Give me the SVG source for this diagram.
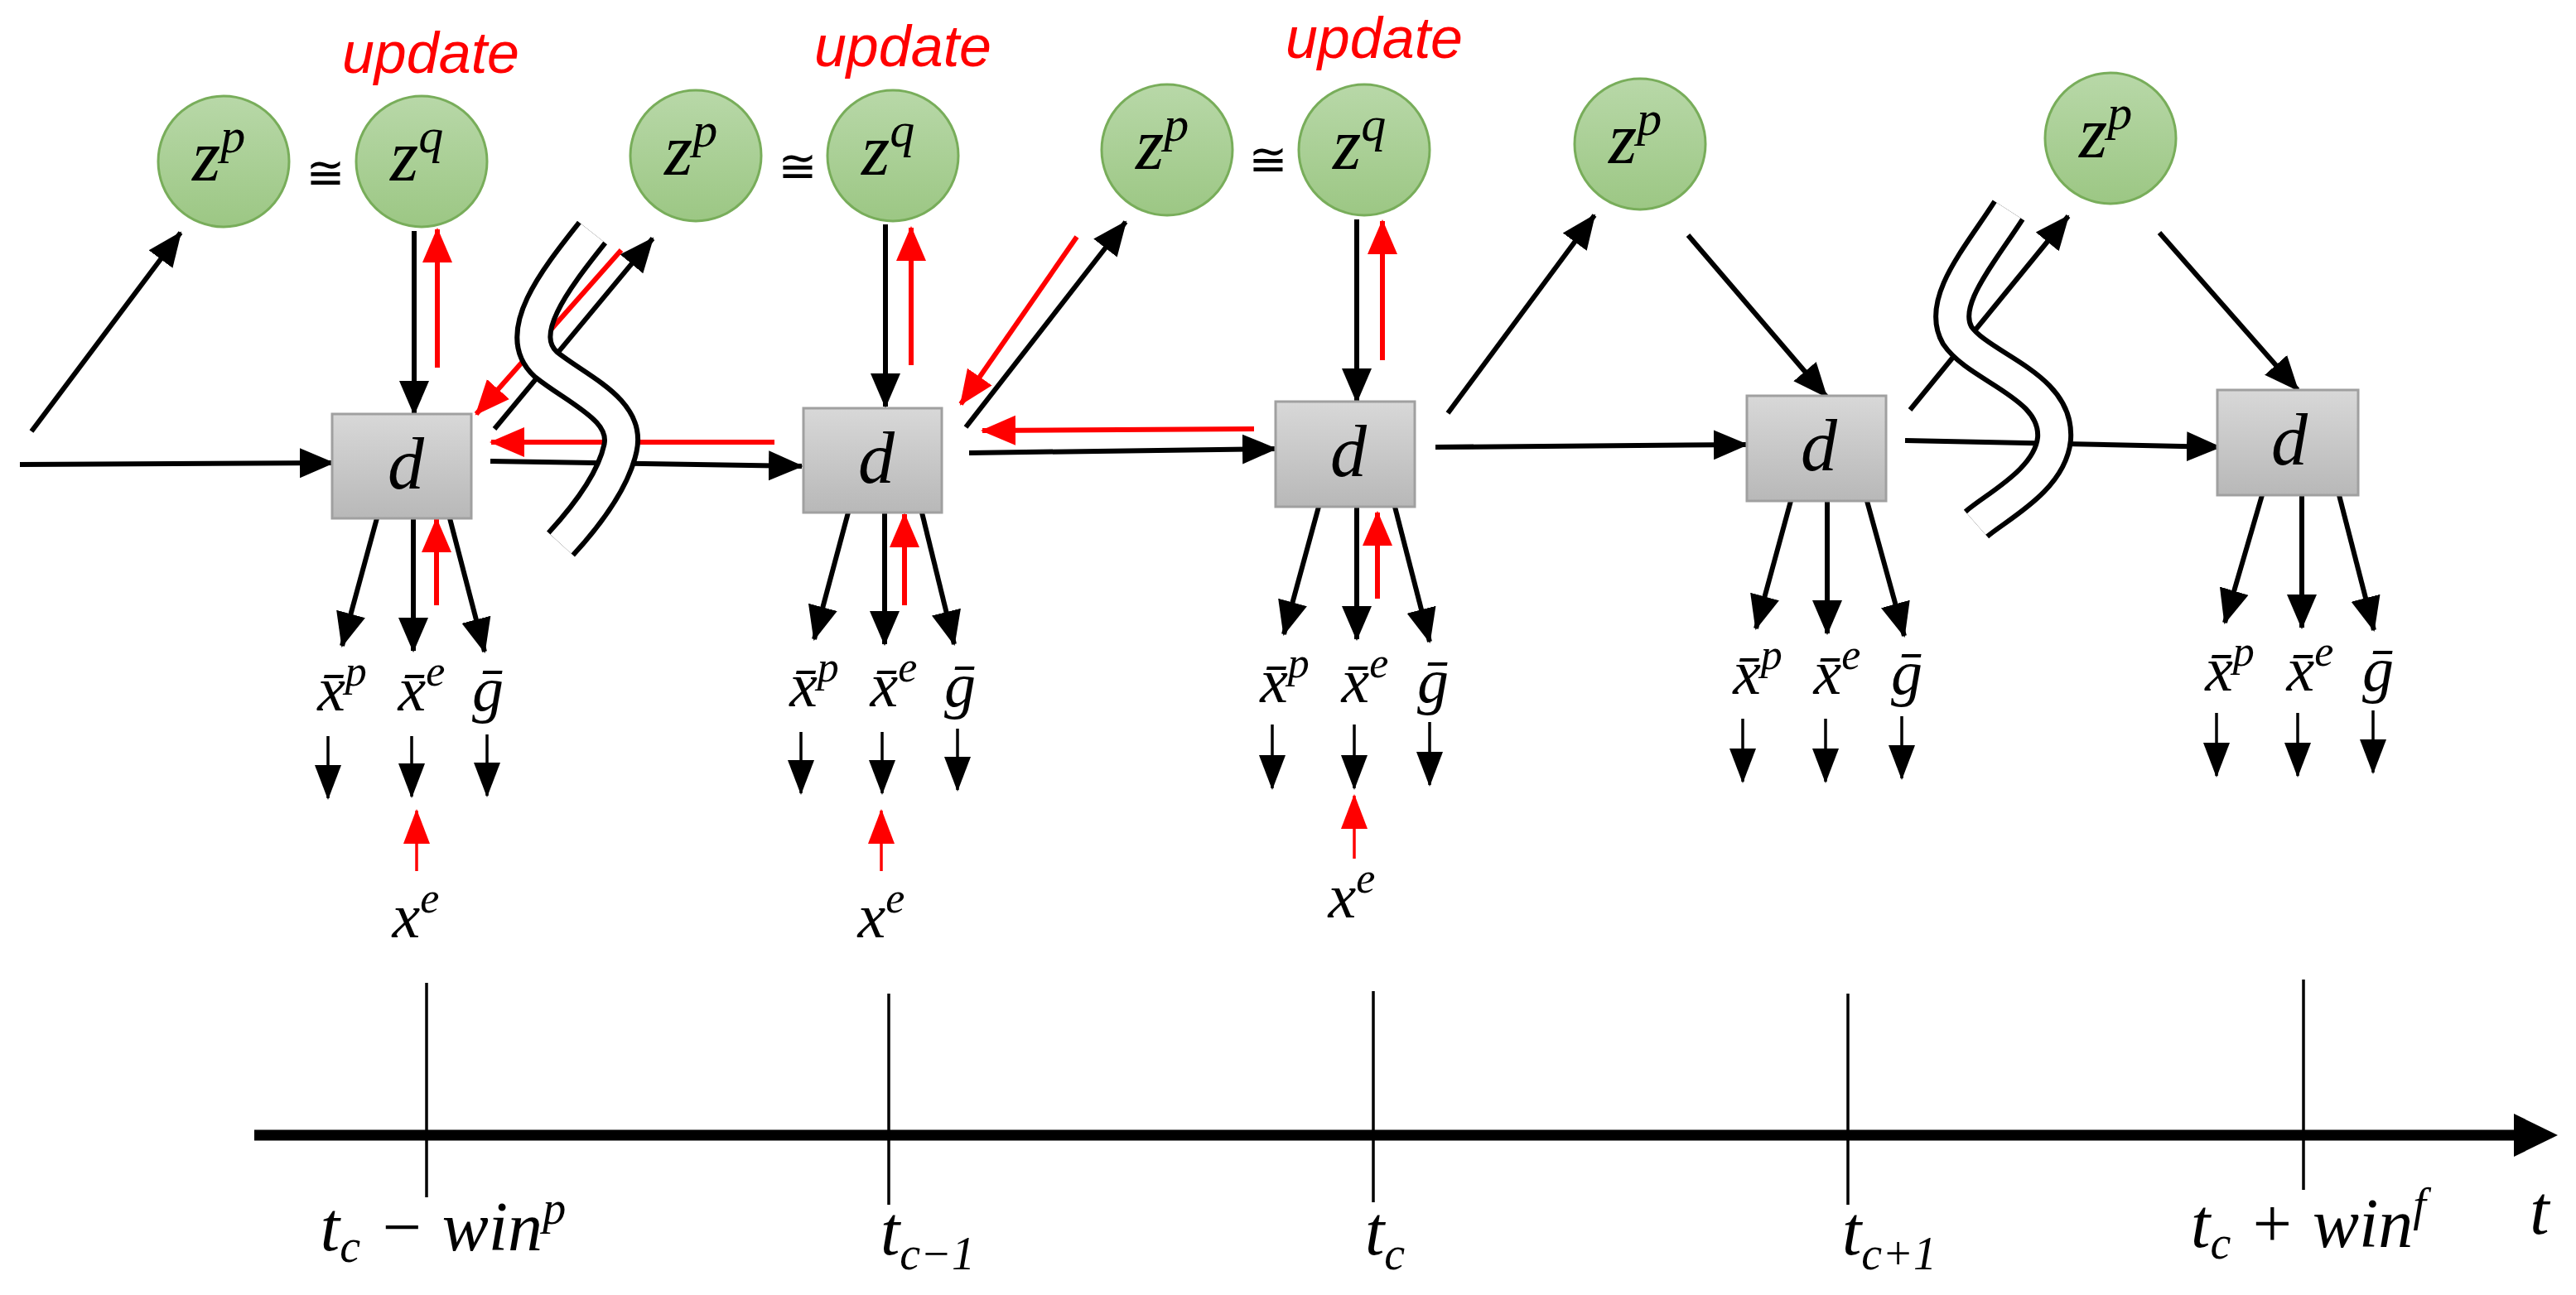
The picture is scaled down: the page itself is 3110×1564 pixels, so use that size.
<svg xmlns="http://www.w3.org/2000/svg" width="3110" height="1564" viewBox="0 0 3110 1564">
<style>
.k{stroke:#000;stroke-width:6;fill:none}
.ks{stroke:#000;stroke-width:3.5;fill:none}
.r{stroke:#f00;stroke-width:6;fill:none}
.r3{stroke:#f00;stroke-width:3.5;fill:none}
.m{font-family:"Liberation Serif","DejaVu Serif",serif;font-style:italic;fill:#000}
.u{font-family:"Liberation Sans",Arial,sans-serif;font-style:italic;fill:#f00;font-size:70px}
.c{fill:url(#gg);stroke:#78ad5a;stroke-width:3}
.b{fill:url(#gb);stroke:#a0a0a0;stroke-width:3}
.eq{font-family:"DejaVu Sans",sans-serif;font-size:56px;fill:#000}
</style>
<defs>
<linearGradient id="gg" x1="0" y1="0" x2="0" y2="1"><stop offset="0" stop-color="#b8d8a8"/><stop offset="1" stop-color="#9cc784"/></linearGradient>
<linearGradient id="gb" x1="0" y1="0" x2="0" y2="1"><stop offset="0" stop-color="#d8d8d8"/><stop offset="1" stop-color="#b8b8b8"/></linearGradient>
<marker id="ak" markerUnits="userSpaceOnUse" markerWidth="44" markerHeight="44" viewBox="0 0 44 44" refX="40" refY="22" orient="auto"><path d="M0,4 L42,22 L0,40 Z" fill="#000"/></marker>
<marker id="ar" markerUnits="userSpaceOnUse" markerWidth="44" markerHeight="44" viewBox="0 0 44 44" refX="40" refY="22" orient="auto"><path d="M0,4 L42,22 L0,40 Z" fill="#f00"/></marker>
<marker id="as" markerUnits="userSpaceOnUse" markerWidth="44" markerHeight="44" viewBox="0 0 44 44" refX="40" refY="22" orient="auto"><path d="M0,6 L42,22 L0,38 Z" fill="#000"/></marker>
<marker id="ars" markerUnits="userSpaceOnUse" markerWidth="44" markerHeight="44" viewBox="0 0 44 44" refX="40" refY="22" orient="auto"><path d="M0,6 L42,22 L0,38 Z" fill="#f00"/></marker>
</defs>
<rect width="3110" height="1564" fill="#fff"/>

<g id="connectors">
<!-- column 1 -->
<line class="k" x1="38" y1="521" x2="218" y2="281" marker-end="url(#ak)"/>
<line class="k" x1="24" y1="561" x2="402" y2="559" marker-end="url(#ak)"/>
<line class="k" x1="500" y1="279" x2="500" y2="500" marker-end="url(#ak)"/>
<line class="r" x1="528" y1="444" x2="528" y2="277" marker-end="url(#ar)"/>
<line class="k" x1="455" y1="626" x2="413" y2="780" marker-end="url(#ak)"/>
<line class="k" x1="499" y1="626" x2="499" y2="786" marker-end="url(#ak)"/>
<line class="k" x1="543" y1="626" x2="585" y2="787" marker-end="url(#ak)"/>
<line class="r" x1="527" y1="731" x2="527" y2="627" marker-end="url(#ar)"/>
<line class="ks" x1="396" y1="889" x2="396" y2="964" marker-end="url(#as)"/>
<line class="ks" x1="497" y1="889" x2="497" y2="962" marker-end="url(#as)"/>
<line class="ks" x1="588" y1="887" x2="588" y2="961" marker-end="url(#as)"/>
<line class="r3" x1="503" y1="1052" x2="503" y2="979" marker-end="url(#ars)"/>
<!-- between 1 and 2 -->
<line class="k" x1="592" y1="557" x2="968" y2="563" marker-end="url(#ak)"/>
<line class="k" x1="597" y1="518" x2="788" y2="288" marker-end="url(#ak)"/>
<line class="r" x1="750" y1="302" x2="575" y2="500" marker-end="url(#ar)"/>
<line class="r" x1="935" y1="534" x2="593" y2="534" marker-end="url(#ar)"/>
<!-- column 2 -->
<line class="k" x1="1069" y1="271" x2="1069" y2="491" marker-end="url(#ak)"/>
<line class="r" x1="1100" y1="441" x2="1100" y2="275" marker-end="url(#ar)"/>
<line class="k" x1="1024" y1="619" x2="983" y2="772" marker-end="url(#ak)"/>
<line class="k" x1="1068" y1="619" x2="1068" y2="778" marker-end="url(#ak)"/>
<line class="k" x1="1113" y1="619" x2="1152" y2="778" marker-end="url(#ak)"/>
<line class="r" x1="1092" y1="731" x2="1092" y2="621" marker-end="url(#ar)"/>
<line class="ks" x1="967" y1="884" x2="967" y2="958" marker-end="url(#as)"/>
<line class="ks" x1="1065" y1="884" x2="1065" y2="958" marker-end="url(#as)"/>
<line class="ks" x1="1156" y1="880" x2="1156" y2="954" marker-end="url(#as)"/>
<line class="r3" x1="1064" y1="1052" x2="1064" y2="979" marker-end="url(#ars)"/>
<!-- between 2 and 3 -->
<line class="k" x1="1170" y1="547" x2="1540" y2="542" marker-end="url(#ak)"/>
<line class="k" x1="1166" y1="516" x2="1359" y2="268" marker-end="url(#ak)"/>
<line class="r" x1="1300" y1="286" x2="1160" y2="488" marker-end="url(#ar)"/>
<line class="r" x1="1514" y1="518" x2="1186" y2="520" marker-end="url(#ar)"/>
<!-- column 3 -->
<line class="k" x1="1638" y1="265" x2="1638" y2="485" marker-end="url(#ak)"/>
<line class="r" x1="1669" y1="435" x2="1669" y2="267" marker-end="url(#ar)"/>
<line class="k" x1="1592" y1="612" x2="1550" y2="766" marker-end="url(#ak)"/>
<line class="k" x1="1638" y1="612" x2="1638" y2="772" marker-end="url(#ak)"/>
<line class="k" x1="1684" y1="612" x2="1726" y2="775" marker-end="url(#ak)"/>
<line class="r" x1="1663" y1="723" x2="1663" y2="619" marker-end="url(#ar)"/>
<line class="ks" x1="1536" y1="875" x2="1536" y2="952" marker-end="url(#as)"/>
<line class="ks" x1="1635" y1="875" x2="1635" y2="952" marker-end="url(#as)"/>
<line class="ks" x1="1726" y1="872" x2="1726" y2="948" marker-end="url(#as)"/>
<line class="r3" x1="1635" y1="1037" x2="1635" y2="961" marker-end="url(#ars)"/>
<!-- between 3 and 4 -->
<line class="k" x1="1748" y1="499" x2="1925" y2="260" marker-end="url(#ak)"/>
<line class="k" x1="1733" y1="540" x2="2109" y2="537" marker-end="url(#ak)"/>
<line class="k" x1="2038" y1="284" x2="2205" y2="479" marker-end="url(#ak)"/>
<!-- column 4 -->
<line class="k" x1="2162" y1="605" x2="2120" y2="759" marker-end="url(#ak)"/>
<line class="k" x1="2206" y1="605" x2="2206" y2="765" marker-end="url(#ak)"/>
<line class="k" x1="2254" y1="605" x2="2299" y2="768" marker-end="url(#ak)"/>
<line class="ks" x1="2104" y1="868" x2="2104" y2="944" marker-end="url(#as)"/>
<line class="ks" x1="2204" y1="868" x2="2204" y2="944" marker-end="url(#as)"/>
<line class="ks" x1="2296" y1="865" x2="2296" y2="940" marker-end="url(#as)"/>
<!-- between 4 and 5 -->
<line class="k" x1="2306" y1="495" x2="2497" y2="261" marker-end="url(#ak)"/>
<line class="k" x1="2300" y1="532" x2="2680" y2="540" marker-end="url(#ak)"/>
<line class="k" x1="2607" y1="281" x2="2774" y2="471" marker-end="url(#ak)"/>
<!-- column 5 -->
<line class="k" x1="2731" y1="598" x2="2686" y2="752" marker-end="url(#ak)"/>
<line class="k" x1="2779" y1="598" x2="2779" y2="758" marker-end="url(#ak)"/>
<line class="k" x1="2824" y1="598" x2="2866" y2="761" marker-end="url(#ak)"/>
<line class="ks" x1="2676" y1="861" x2="2676" y2="937" marker-end="url(#as)"/>
<line class="ks" x1="2774" y1="861" x2="2774" y2="937" marker-end="url(#as)"/>
<line class="ks" x1="2865" y1="858" x2="2865" y2="933" marker-end="url(#as)"/>
</g>

<g id="break1">
<path d="M715,281 C669,339 619,403 659,440 C699,472 759,495 749,541 C739,587 699,633 677,657" stroke="#000" stroke-width="46" fill="none"/>
<path d="M715,281 C669,339 619,403 659,440 C699,472 759,495 749,541 C739,587 699,633 677,657" stroke="#fff" stroke-width="34" fill="none"/>
</g>
<g id="break2">
<path d="M2425,254 C2389,310 2340,365 2363,405 C2390,445 2485,465 2480,530 C2475,580 2410,612 2386,633" stroke="#000" stroke-width="46" fill="none"/>
<path d="M2425,254 C2389,310 2340,365 2363,405 C2390,445 2485,465 2480,530 C2475,580 2410,612 2386,633" stroke="#fff" stroke-width="34" fill="none"/>
</g>

<g id="timeline">
<line x1="307" y1="1371" x2="3040" y2="1371" stroke="#000" stroke-width="13"/>
<path d="M3035,1345 L3088,1371 L3035,1397 Z" fill="#000"/>
<line class="ks" x1="515" y1="1187" x2="515" y2="1446"/>
<line class="ks" x1="1073" y1="1200" x2="1073" y2="1455"/>
<line class="ks" x1="1658" y1="1197" x2="1658" y2="1452"/>
<line class="ks" x1="2231" y1="1200" x2="2231" y2="1455"/>
<line class="ks" x1="2781" y1="1183" x2="2781" y2="1437"/>
<text class="m" font-size="84" x="535" y="1510" text-anchor="middle">t<tspan font-size="56" dy="14">c</tspan><tspan dy="-14"> − win</tspan><tspan font-size="56" dy="-32">p</tspan></text>
<text class="m" font-size="84" x="1120" y="1515" text-anchor="middle">t<tspan font-size="56" dy="18">c−1</tspan></text>
<text class="m" font-size="84" x="1672" y="1515" text-anchor="middle">t<tspan font-size="56" dy="18">c</tspan></text>
<text class="m" font-size="84" x="2281" y="1515" text-anchor="middle">t<tspan font-size="56" dy="18">c+1</tspan></text>
<text class="m" font-size="84" x="2787" y="1506" text-anchor="middle">t<tspan font-size="56" dy="14">c</tspan><tspan dy="-14"> + win</tspan><tspan font-size="56" dy="-32">f</tspan></text>
<text class="m" font-size="84" x="3066" y="1490" text-anchor="middle">t</text>
</g>

<!-- column 1 nodes -->
<g id="zp1"><circle class="c" cx="270" cy="195" r="79"/><text class="m" font-size="88" x="264" y="218" text-anchor="middle">z<tspan font-size="60" dy="-34">p</tspan></text></g>
<g id="zq1"><circle class="c" cx="509" cy="195" r="79"/><text class="m" font-size="88" x="503" y="218" text-anchor="middle">z<tspan font-size="60" dy="-34">q</tspan></text></g>
<text class="eq" x="393" y="228" text-anchor="middle">≅</text>
<text class="u" x="520" y="88" text-anchor="middle">update</text>
<g id="d1"><rect class="b" x="401" y="500" width="168" height="126"/><text class="m" font-size="88" x="490" y="590" text-anchor="middle">d</text></g>
<g id="out1" class="m" font-size="76" text-anchor="middle">
<text x="413" y="858">x̄<tspan font-size="52" dy="-30">p</tspan></text>
<text x="509" y="858">x̄<tspan font-size="52" dy="-30">e</tspan></text>
<text x="589" y="858">ḡ</text>
<text x="502" y="1132">x<tspan font-size="52" dy="-30">e</tspan></text>
</g>

<!-- column 2 -->
<g id="zp2"><circle class="c" cx="840" cy="188" r="79"/><text class="m" font-size="88" x="834" y="211" text-anchor="middle">z<tspan font-size="60" dy="-34">p</tspan></text></g>
<g id="zq2"><circle class="c" cx="1078" cy="188" r="79"/><text class="m" font-size="88" x="1072" y="211" text-anchor="middle">z<tspan font-size="60" dy="-34">q</tspan></text></g>
<text class="eq" x="963" y="220" text-anchor="middle">≅</text>
<text class="u" x="1090" y="80" text-anchor="middle">update</text>
<g id="d2"><rect class="b" x="970" y="493" width="167" height="126"/><text class="m" font-size="88" x="1058" y="583" text-anchor="middle">d</text></g>
<g id="out2" class="m" font-size="76" text-anchor="middle">
<text x="983" y="853">x̄<tspan font-size="52" dy="-30">p</tspan></text>
<text x="1079" y="853">x̄<tspan font-size="52" dy="-30">e</tspan></text>
<text x="1159" y="853">ḡ</text>
<text x="1064" y="1132">x<tspan font-size="52" dy="-30">e</tspan></text>
</g>

<!-- column 3 -->
<g id="zp3"><circle class="c" cx="1409" cy="181" r="79"/><text class="m" font-size="88" x="1403" y="204" text-anchor="middle">z<tspan font-size="60" dy="-34">p</tspan></text></g>
<g id="zq3"><circle class="c" cx="1647" cy="181" r="79"/><text class="m" font-size="88" x="1641" y="204" text-anchor="middle">z<tspan font-size="60" dy="-34">q</tspan></text></g>
<text class="eq" x="1531" y="212" text-anchor="middle">≅</text>
<text class="u" x="1659" y="70" text-anchor="middle">update</text>
<g id="d3"><rect class="b" x="1540" y="485" width="168" height="127"/><text class="m" font-size="88" x="1628" y="575" text-anchor="middle">d</text></g>
<g id="out3" class="m" font-size="76" text-anchor="middle">
<text x="1551" y="848">x̄<tspan font-size="52" dy="-30">p</tspan></text>
<text x="1648" y="848">x̄<tspan font-size="52" dy="-30">e</tspan></text>
<text x="1730" y="848">ḡ</text>
<text x="1632" y="1108">x<tspan font-size="52" dy="-30">e</tspan></text>
</g>

<!-- column 4 -->
<g id="zp4"><circle class="c" cx="1980" cy="174" r="79"/><text class="m" font-size="88" x="1974" y="197" text-anchor="middle">z<tspan font-size="60" dy="-34">p</tspan></text></g>
<g id="d4"><rect class="b" x="2109" y="478" width="168" height="127"/><text class="m" font-size="88" x="2196" y="568" text-anchor="middle">d</text></g>
<g id="out4" class="m" font-size="76" text-anchor="middle">
<text x="2122" y="838">x̄<tspan font-size="52" dy="-30">p</tspan></text>
<text x="2218" y="838">x̄<tspan font-size="52" dy="-30">e</tspan></text>
<text x="2302" y="838">ḡ</text>
</g>

<!-- column 5 -->
<g id="zp5"><circle class="c" cx="2548" cy="167" r="79"/><text class="m" font-size="88" x="2542" y="190" text-anchor="middle">z<tspan font-size="60" dy="-34">p</tspan></text></g>
<g id="d5"><rect class="b" x="2677" y="471" width="170" height="127"/><text class="m" font-size="88" x="2764" y="561" text-anchor="middle">d</text></g>
<g id="out5" class="m" font-size="76" text-anchor="middle">
<text x="2692" y="834">x̄<tspan font-size="52" dy="-30">p</tspan></text>
<text x="2789" y="834">x̄<tspan font-size="52" dy="-30">e</tspan></text>
<text x="2871" y="834">ḡ</text>
</g>
</svg>
